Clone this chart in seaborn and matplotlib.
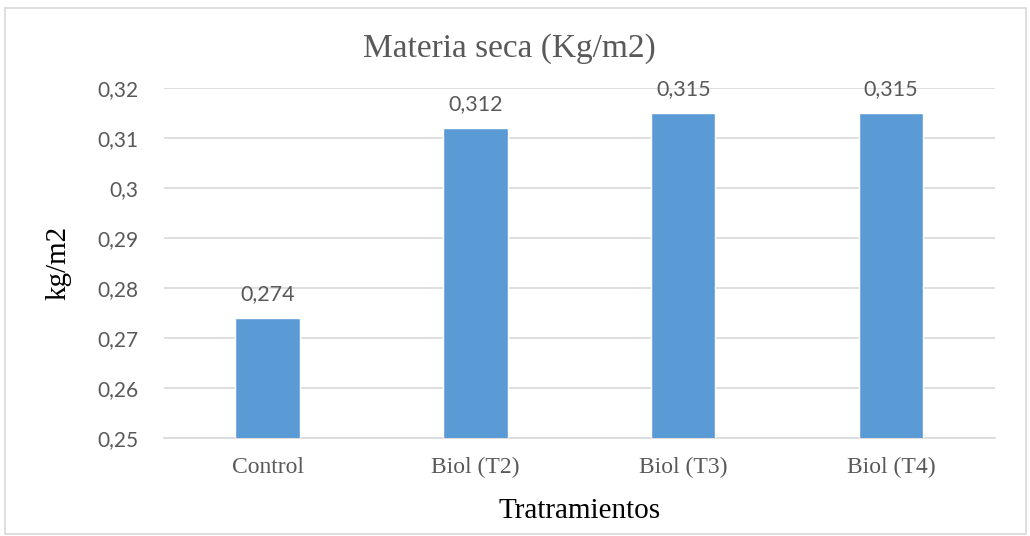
import matplotlib
matplotlib.use("Agg")
import matplotlib.pyplot as plt
import seaborn as sns
import pandas as pd
from matplotlib.ticker import FuncFormatter, MultipleLocator
from matplotlib.patches import Rectangle

# Data
tratamientos = ["Control", "Biol (T2)", "Biol (T3)", "Biol (T4)"]
materia_seca = [0.274, 0.312, 0.315, 0.315]

df = pd.DataFrame({"Tratamiento": tratamientos, "Materia_seca": materia_seca})

sns.set_style("white")
plt.rcParams['font.family'] = ['Lato', 'DejaVu Sans']

gray = "#595959"
serif = ['Liberation Serif', 'DejaVu Serif']

fig = plt.figure(figsize=(10.3, 5.36), dpi=100)
ax = fig.add_axes([0.159, 0.183, 0.807, 0.653])

sns.barplot(data=df, x="Tratamiento", y="Materia_seca", color="#5B9BD5",
            width=0.31, saturation=1, ax=ax, zorder=3)

ax.set_ylim(0.25, 0.32)
ax.yaxis.set_major_locator(MultipleLocator(0.01))
ax.yaxis.set_major_formatter(FuncFormatter(lambda v, p: ('%g' % round(v, 3)).replace('.', ',')))
ax.grid(axis='y', color='#D9D9D9', linewidth=1.2, zorder=0)
ax.set_axisbelow(True)
for s in ['top', 'right', 'left']:
    ax.spines[s].set_visible(False)
ax.spines['bottom'].set_color('#D9D9D9')
ax.spines['bottom'].set_linewidth(1.2)
ax.tick_params(axis='both', length=0)
ax.tick_params(axis='y', labelsize=15, labelcolor=gray, pad=18)
ax.tick_params(axis='x', pad=14)
for lbl in ax.get_xticklabels():
    lbl.set_fontfamily(serif)
    lbl.set_fontsize(17)
    lbl.set_color(gray)
ax.set_xlim(-0.5, 3.5)

# data labels
for i, v in enumerate(materia_seca):
    ax.annotate(('%g' % v).replace('.', ','), (i, v), xytext=(0, 10),
                textcoords='offset points', ha='center', va='bottom',
                fontsize=15.5, color=gray)

ax.set_xlabel("Tratramientos", fontfamily=serif, fontsize=21, color='black', labelpad=14)
ax.set_ylabel("kg/m2", fontfamily=serif, fontsize=21, color='black', labelpad=19)
fig.text(0.495, 0.91, "Materia seca (Kg/m2)", fontfamily=serif, fontsize=24,
         color=gray, ha='center', va='center')

fig.patches.append(Rectangle((0.005, 0.004), 0.991, 0.982, transform=fig.transFigure,
                             fill=False, edgecolor='#D9D9D9', linewidth=1.2))

fig.savefig("out.png", dpi=100, facecolor='white')
